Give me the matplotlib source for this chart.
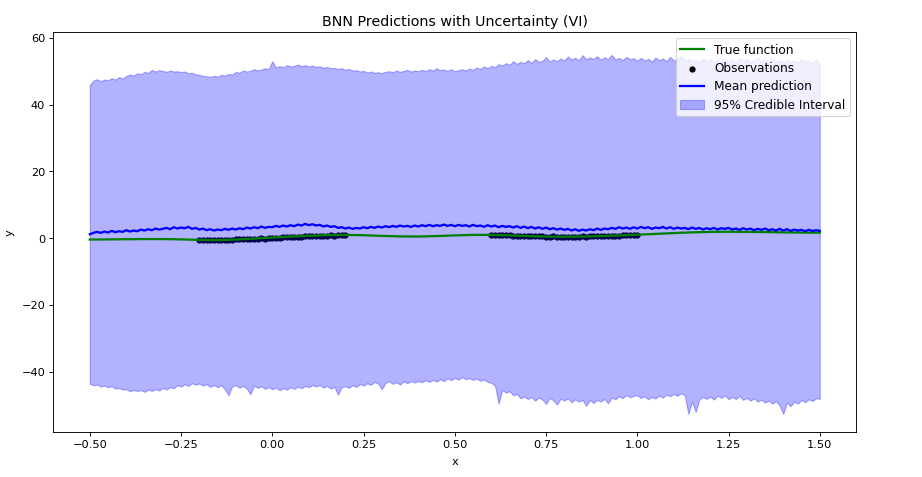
import numpy as np
import matplotlib
matplotlib.use("Agg")
import matplotlib.pyplot as plt

# grid used for the predictive band and the mean (step 0.01)
x_grid = np.linspace(-0.5, 1.5, 201)

upper_95 = [45.9, 47.2, 47.6, 47.0, 47.5, 47.3, 47.9, 47.5, 48.2, 47.8,
            48.6, 49.0, 48.7, 49.4, 49.1, 49.8, 49.5, 50.4, 49.9, 50.3,
            50.1, 49.8, 50.2, 49.9, 50.0, 49.7, 49.9, 49.4, 49.5, 49.1,
            48.9, 48.6, 48.5, 48.3, 48.6, 48.4, 48.9, 48.7, 49.2, 49.0,
            49.8, 49.5, 50.2, 49.9, 50.1, 50.6, 50.2, 50.5, 50.9, 50.6,
            53.0, 51.1, 51.5, 51.2, 51.8, 51.4, 51.6, 52.0, 51.5, 51.8,
            51.4, 51.7, 51.3, 51.5, 51.0, 51.3, 50.9, 51.0, 50.6, 50.9,
            50.4, 50.7, 50.2, 50.3, 49.9, 50.1, 49.6, 49.9, 49.5, 49.7,
            49.4, 49.8, 50.0, 49.7, 50.2, 49.8, 50.1, 50.4, 49.9, 50.2,
            50.0, 50.4, 50.1, 50.6, 50.2, 50.9, 50.3, 50.5, 50.1, 50.6,
            50.0, 50.3, 50.6, 50.2, 50.8, 50.4, 51.1, 50.7, 51.4, 50.9,
            51.6, 51.2, 52.1, 51.7, 52.4, 51.9, 53.0, 52.2, 52.8, 52.4,
            53.3, 52.5, 53.6, 52.8, 53.1, 54.2, 52.9, 53.5, 53.0, 53.8,
            53.2, 54.4, 53.5, 54.0, 53.3, 54.8, 53.6, 54.1, 53.7, 54.5,
            53.4, 54.2, 53.6, 54.9, 53.5, 54.0, 53.3, 54.3, 53.6, 53.9,
            53.1, 54.0, 53.2, 53.7, 52.9, 54.1, 53.3, 53.8, 53.0, 54.3,
            53.2, 53.6, 54.5, 53.0, 53.8, 53.1, 53.5, 52.8, 53.9, 53.0,
            53.6, 52.8, 53.3, 52.7, 53.8, 53.0, 53.4, 52.6, 53.9, 53.1,
            53.5, 52.7, 53.2, 54.0, 52.9, 53.4, 52.6, 53.6, 53.0, 53.3,
            52.6, 53.5, 52.8, 53.2, 52.5, 53.7, 52.7, 53.1, 52.4, 53.4,
            52.3]

lower_95 = [-43.6, -44.0, -43.8, -44.4, -44.1, -44.6, -44.3, -45.0, -44.8, -45.3,
            -45.2, -45.8, -45.4, -45.7, -45.5, -46.0, -45.3, -45.7, -45.2, -45.6,
            -44.8, -45.3, -44.6, -44.9, -44.0, -44.4, -43.7, -44.2, -43.4, -43.8,
            -43.5, -44.1, -43.7, -44.5, -43.9, -44.6, -44.0, -45.2, -47.0, -44.3,
            -44.0, -44.7, -44.2, -45.0, -46.7, -44.1, -44.8, -44.3, -45.1, -44.6,
            -45.2, -44.7, -45.5, -44.9, -45.3, -44.6, -45.1, -44.4, -44.9, -44.2,
            -44.6, -43.9, -44.4, -44.0, -44.7, -44.2, -45.0, -44.5, -46.8, -44.6,
            -44.3, -44.8, -44.0, -44.5, -43.6, -44.1, -43.4, -43.9, -43.0, -43.5,
            -45.2, -43.3, -42.8, -43.6, -43.1, -43.8, -42.9, -43.4, -42.8, -43.2,
            -42.7, -43.1, -42.5, -43.0, -42.4, -42.9, -42.2, -42.8, -41.9, -42.5,
            -41.8, -42.3, -41.6, -42.2, -41.9, -42.4, -42.0, -42.7, -42.3, -43.0,
            -43.3, -44.1, -49.5, -45.4, -46.2, -45.8, -47.0, -46.6, -47.9, -47.4,
            -48.1, -47.5, -48.6, -47.7, -48.3, -49.6, -47.8, -48.5, -49.8, -48.0,
            -48.6, -47.9, -49.1, -48.2, -48.9, -48.4, -50.2, -48.5, -49.3, -48.4,
            -48.9, -48.1, -49.4, -47.7, -48.2, -47.3, -47.9, -46.9, -47.6, -47.2,
            -47.0, -47.8, -47.3, -48.2, -47.5, -48.0, -47.1, -47.7, -46.8, -47.3,
            -46.6, -47.2, -46.4, -47.0, -52.6, -48.9, -52.0, -48.2, -47.5, -48.1,
            -47.4, -48.3, -47.1, -47.8, -47.0, -48.2, -47.5, -48.1, -47.2, -48.4,
            -47.8, -48.6, -47.9, -48.9, -48.3, -49.2, -48.6, -49.5, -48.8, -50.1,
            -52.6, -49.1, -50.3, -48.9, -49.5, -48.4, -49.1, -48.2, -48.7, -47.9,
            -48.1]

mean_pred = [1.2, 1.6, 1.9, 1.6, 2.0, 1.7, 2.2, 1.8, 2.1, 1.9,
             2.4, 2.0, 2.3, 2.1, 2.6, 2.3, 2.7, 2.4, 2.9, 2.6,
             2.8, 3.1, 2.7, 3.3, 2.9, 3.2, 3.0, 3.4, 2.8, 3.1,
             2.6, 2.9, 2.4, 2.7, 2.3, 2.6, 2.4, 2.8, 2.5, 2.9,
             2.6, 3.0, 2.7, 3.2, 2.9, 3.3, 3.0, 3.5, 3.1, 3.4,
             3.3, 3.7, 3.4, 3.8, 3.5, 3.9, 3.6, 4.1, 3.8, 4.3,
             3.9, 4.2, 3.8, 4.0, 3.5, 3.8, 3.4, 3.6, 3.1, 3.3,
             2.9, 3.2, 2.8, 3.1, 2.9, 3.3, 3.0, 3.4, 3.1, 3.5,
             3.2, 3.6, 3.3, 3.7, 3.4, 3.8, 3.5, 3.7, 3.4, 3.8,
             3.5, 3.9, 3.6, 4.0, 3.6, 3.9, 3.7, 4.1, 3.7, 4.0,
             3.6, 4.0, 3.7, 3.9, 3.5, 4.0, 3.6, 3.8, 3.4, 3.9,
             3.5, 3.8, 3.3, 3.7, 3.4, 3.6, 3.2, 3.6, 3.1, 3.5,
             3.0, 3.4, 2.9, 3.3, 2.8, 3.2, 2.7, 3.0, 2.6, 2.9,
             2.5, 2.8, 2.3, 2.7, 2.2, 2.6, 2.3, 2.7, 2.4, 2.9,
             2.5, 2.9, 2.7, 3.1, 2.8, 3.3, 2.9, 3.2, 2.8, 3.3,
             2.9, 3.4, 3.0, 3.3, 2.8, 3.2, 3.0, 3.4, 2.9, 3.3,
             2.8, 3.2, 2.9, 3.1, 2.7, 3.2, 2.8, 3.1, 2.6, 3.0,
             2.7, 3.1, 2.6, 3.0, 2.8, 3.1, 2.6, 2.9, 2.5, 3.0,
             2.6, 2.9, 2.4, 2.8, 2.5, 2.9, 2.4, 2.7, 2.3, 2.8,
             2.3, 2.7, 2.2, 2.6, 2.3, 2.5, 2.1, 2.5, 2.2, 2.4,
             2.2]

# true function, step 0.05
x_true = np.linspace(-0.5, 1.5, 41)
y_true = [-0.40, -0.35, -0.30, -0.25, -0.25, -0.35, -0.50, -0.55, -0.40, -0.10,
          0.20, 0.50, 0.75, 0.95, 1.00, 0.90, 0.70, 0.55, 0.50, 0.65,
          0.85, 1.00, 1.00, 0.85, 0.65, 0.50, 0.45, 0.50, 0.65, 0.85,
          1.05, 1.30, 1.55, 1.75, 1.90, 1.95, 1.90, 1.85, 1.75, 1.70,
          1.65]

# observations, two clusters
x_obs_left = np.linspace(-0.2, 0.2, 41)
y_obs_left = [-0.52, -0.58, -0.50, -0.55, -0.47, -0.52, -0.45, -0.50, -0.40, -0.46,
              -0.38, -0.30, -0.36, -0.25, -0.20, -0.26, -0.12, -0.05, -0.10, 0.02,
              0.12, 0.05, 0.20, 0.28, 0.22, 0.35, 0.42, 0.38, 0.50, 0.55,
              0.60, 0.56, 0.70, 0.74, 0.68, 0.80, 0.85, 0.80, 0.92, 0.88,
              0.95]
x_obs_right = np.linspace(0.6, 1.0, 41)
y_obs_right = [0.95, 1.00, 0.90, 0.92, 0.85, 0.88, 0.80, 0.76, 0.72, 0.75,
               0.65, 0.62, 0.66, 0.55, 0.58, 0.50, 0.48, 0.52, 0.45, 0.50,
               0.42, 0.48, 0.44, 0.50, 0.46, 0.52, 0.48, 0.55, 0.52, 0.60,
               0.58, 0.65, 0.70, 0.68, 0.78, 0.80, 0.86, 0.90, 0.95, 1.00,
               1.05]

x_obs = np.concatenate([x_obs_left, x_obs_right])
y_obs = np.array(y_obs_left + y_obs_right)

dpi = 82
fig = plt.figure(figsize=(922.3 / dpi, 477.3 / dpi), dpi=dpi)
ax = fig.add_axes([0.0578, 0.095, 0.8706, 0.8364])

ax.plot(x_true, y_true, color="green", lw=2, label="True function")
ax.scatter(x_obs, y_obs, color="black", s=20, label="Observations")
ax.plot(x_grid, mean_pred, color="blue", lw=2, label="Mean prediction")
ax.fill_between(x_grid, lower_95, upper_95, color="blue", alpha=0.3,
                label="95% Credible Interval")

ax.set_xlim(-0.6, 1.6)
ax.set_ylim(-57.9, 61.6)
ax.set_xlabel("x", labelpad=6)
ax.set_ylabel("y", labelpad=6)
ax.set_title("BNN Predictions with Uncertainty (VI)", fontsize=12.5)
ax.legend(loc="upper right", fontsize=10.6, labelspacing=0.45)

fig.savefig("out.png", dpi=dpi)
